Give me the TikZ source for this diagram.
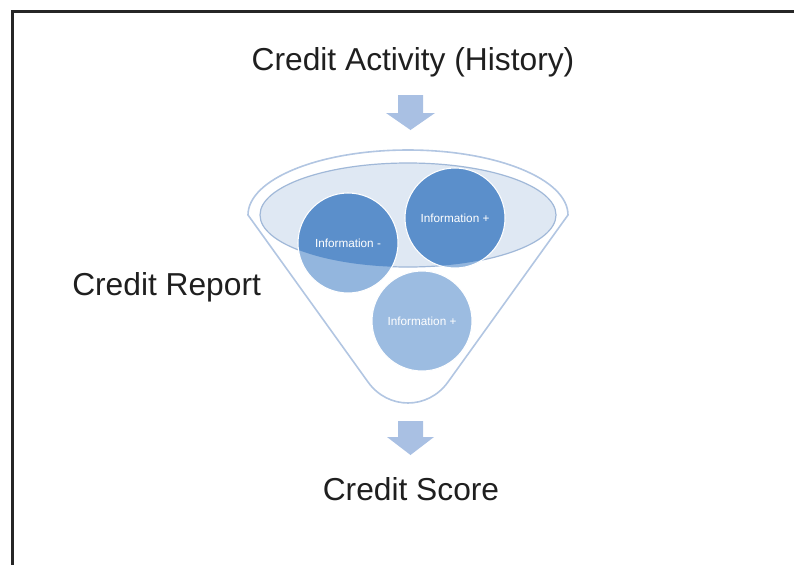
\documentclass[tikz,border=0pt]{standalone}
\usepackage{fontspec}
\setmainfont{Liberation Sans}
\definecolor{arrowblue}{HTML}{A9C0E3}
\definecolor{funnelline}{HTML}{B2C6E2}
\definecolor{ellfill}{HTML}{DFE8F3}
\definecolor{ellline}{HTML}{A0B8D8}
\definecolor{infodark}{HTML}{5B8FCB}
\definecolor{infolight}{HTML}{93B6DE}
\begin{document}
\begin{tikzpicture}[x=0.75pt,y=-0.75pt,
        title/.style={font=\fontsize{23.8}{28}\selectfont, text=black!88, inner sep=0pt},
        info/.style={circle, minimum size=75pt, inner sep=0pt, draw=white, line width=0.8pt,
            fill=infolight, text=white, font=\fontsize{8.8}{10}\selectfont},
        blockarrow/.style={fill=arrowblue}]
                \useasboundingbox (0,0) rectangle (794,565);
                \draw[line width=2pt, black!85] (12.5,570) -- (12.5,11.5) -- (800,11.5);

                \node[title, anchor=base] (activity) at (413,70) {Credit Activity (History)};
                \node[title, anchor=base west] (report) at (72,295) {Credit Report};
                \node[title, anchor=base] (score) at (411,500) {Credit Score};

                % funnel
                \coordinate (ellc) at (408,215);
                \draw[funnelline, line width=1.2pt, fill=white] (248,215) arc[start angle=180, end angle=0, x radius=120pt, y radius=48.75pt]
                    -- (448,382) .. controls (428,410) and (388,410) .. (368,382) -- cycle;
                \draw[ellline, fill=ellfill, line width=0.9pt] (ellc) ellipse[x radius=111pt, y radius=39pt];

                \node[info, path picture={\fill[infodark] (ellc) ellipse[x radius=111pt, y radius=39pt];}] (infoneg) at (348,243) {Information -};
                \node[info, path picture={\fill[infodark] (ellc) ellipse[x radius=111pt, y radius=39pt];}] (infopos) at (455,218) {Information +};
                \node[info, fill=infolight!92!white] (infolow) at (422,321) {Information +};

                % block arrows
                \fill[blockarrow] (398,95) -- (423,95) -- (423,113) -- (435,113) -- (410.5,130) -- (386,113) -- (398,113) -- cycle;
                \fill[blockarrow] (398,421) -- (423,421) -- (423,437) -- (434,437) -- (410.5,455) -- (387,437) -- (398,437) -- cycle;
            \end{tikzpicture}
\end{document}
